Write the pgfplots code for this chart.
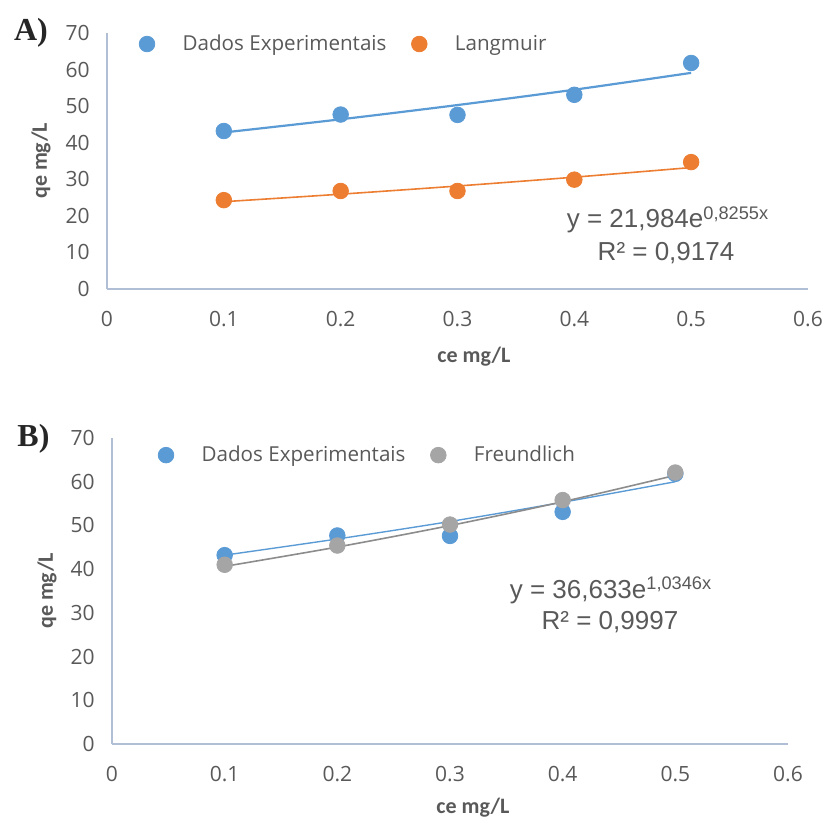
\documentclass[border=0pt]{standalone}
\usepackage{fontspec}
\setmainfont{Open Sans}
\newfontfamily\eqfont{Liberation Sans}
\newfontfamily\labfont{Carlito}
\newfontfamily\panelfont{Liberation Serif}
\usepackage{pgfplots}
\pgfplotsset{compat=1.18}
\definecolor{cblue}{HTML}{5B9BD5}
\definecolor{corange}{HTML}{ED7D31}
\definecolor{cgray}{HTML}{A5A5A5}
\definecolor{ctext}{HTML}{595959}
\definecolor{caxis}{HTML}{B0BED6}
\pgfplotsset{mk/.style={only marks, mark=*, mark size=3.9pt, mark options={draw=#1, fill=#1}}}
\pgfplotsset{myaxis/.style={
  scale only axis, xmin=0, xmax=0.6, ymin=0, ymax=70,
  axis x line*=bottom, axis y line*=left,
  axis line style={-, draw=caxis, line width=0.7pt},
  xtick={0,0.1,0.2,0.3,0.4,0.5,0.6}, ytick={0,10,20,30,40,50,60,70},
  major tick length=0pt,
  /pgf/number format/assume math mode=true,
  tick label style={font=\fontsize{10.5}{12}\selectfont, text=ctext},
  xticklabel style={anchor=center, yshift=-15pt},
  yticklabel style={anchor=east, inner xsep=0pt, xshift=-8.5pt},
  label style={font=\labfont\bfseries\fontsize{11}{13}\selectfont, text=ctext},
  legend style={draw=none, fill=none, inner sep=0pt, nodes={inner sep=0pt},
    font=\fontsize{10.3}{12}\selectfont, text=ctext,
    /tikz/every odd column/.append style={column sep=13.9pt},
    /tikz/every even column/.append style={column sep=12.5pt}},
  legend columns=2,
  legend image code/.code={\draw[#1] plot coordinates {(0pt,0pt)};},
}}
\begin{document}
\begin{tikzpicture}
\useasboundingbox (0,0) rectangle (413pt,412.5pt);
% Panel A
\begin{axis}[myaxis, at={(53.5pt,268pt)}, anchor=south west, width=350.5pt, height=128pt,
  xlabel={ce mg/L}, ylabel={qe mg/L},
  xlabel style={at={([yshift=-34pt]axis description cs:0.5235,0)}, anchor=center},
  ylabel style={at={([xshift=-33pt]axis description cs:0,0.5)}, anchor=center},
  legend style={at={(axis description cs:0.0454,0.957)}, anchor=west}]
\addplot[mk=cblue] coordinates {(0.1,43.2) (0.2,47.7) (0.3,47.6) (0.4,53.1) (0.5,61.8)};
\addlegendentry{Dados Experimentais}
\addplot[mk=corange] coordinates {(0.1,24.3) (0.2,26.8) (0.3,26.8) (0.4,29.9) (0.5,34.7)};
\addlegendentry{Langmuir}
\addplot[cblue, line width=1.1pt, smooth, forget plot] coordinates {(0.1,42.8) (0.2,46.4) (0.3,50.3) (0.4,54.5) (0.5,59.1)};
\addplot[corange, line width=0.8pt, smooth, forget plot] coordinates {(0.1,23.87) (0.2,25.93) (0.3,28.16) (0.4,30.58) (0.5,33.21)};
\node[text=ctext, font=\eqfont\fontsize{13}{15}\selectfont] at (axis cs:0.4802,18.87) {y = 21,984e\textsuperscript{0,8255x}};
\node[text=ctext, font=\eqfont\fontsize{13}{15}\selectfont] at (axis cs:0.4785,9.84) {R² = 0,9174};
\end{axis}
% Panel B
\begin{axis}[myaxis, at={(56pt,40.5pt)}, anchor=south west, width=338pt, height=153pt,
  xlabel={ce mg/L}, ylabel={qe mg/L},
  xlabel style={at={([yshift=-32pt]axis description cs:0.534,0)}, anchor=center},
  ylabel style={at={([xshift=-32.5pt]axis description cs:0,0.5)}, anchor=center},
  legend style={at={(axis description cs:0.0678,0.944)}, anchor=west}]
\addplot[mk=cblue] coordinates {(0.1,43.2) (0.2,47.7) (0.3,47.6) (0.4,53.1) (0.5,61.8)};
\addlegendentry{Dados Experimentais}
\addplot[mk=cgray] coordinates {(0.1,41.0) (0.2,45.4) (0.3,50.2) (0.4,55.8) (0.5,62.1)};
\addlegendentry{Freundlich}
\addplot[cblue, line width=0.7pt, smooth, forget plot] coordinates {(0.1,43.2) (0.2,46.9) (0.3,50.9) (0.4,55.3) (0.5,60.0)};
\addplot[black!45, line width=0.8pt, smooth, forget plot] coordinates {(0.1,40.63) (0.2,45.06) (0.3,49.97) (0.4,55.42) (0.5,61.46)};
\node[text=ctext, font=\eqfont\fontsize{13}{15}\selectfont] at (axis cs:0.4429,35.23) {y = 36,633e\textsuperscript{1,0346x}};
\node[text=ctext, font=\eqfont\fontsize{13}{15}\selectfont] at (axis cs:0.442,27.9) {R² = 0,9997};
\end{axis}
\node[font=\panelfont\bfseries\fontsize{16}{18}\selectfont, text=black!85] at (15.5pt,396pt) {A)};
\node[font=\panelfont\bfseries\fontsize{16}{18}\selectfont, text=black!85] at (16.75pt,193pt) {B)};
\end{tikzpicture}
\end{document}
